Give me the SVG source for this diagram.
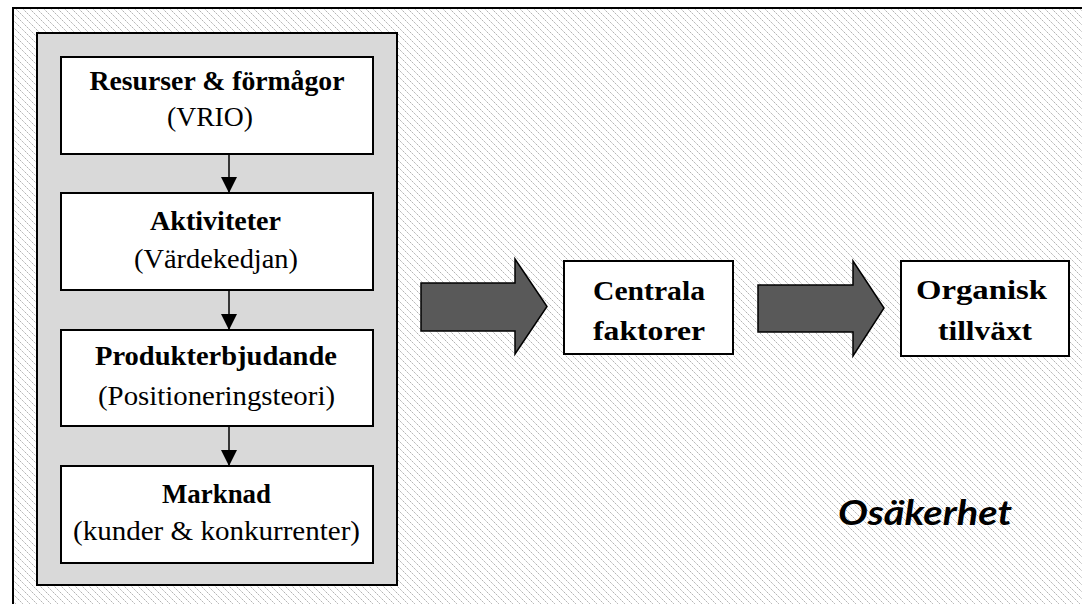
<svg xmlns="http://www.w3.org/2000/svg" width="1082" height="604" viewBox="0 0 1082 604">
  <defs>
    <pattern id="hatch" patternUnits="userSpaceOnUse" width="7" height="7">
      <rect width="7" height="7" fill="#ffffff"/>
      <path d="M-1,-1 L8,8 M-1,6 L1,8 M6,-1 L8,1" stroke="#a4a4a4" stroke-width="0.9" stroke-dasharray="1.6 0.8"/>
    </pattern>
    <marker id="tri" viewBox="0 0 16 16" refX="16" refY="8" markerWidth="16" markerHeight="16" markerUnits="userSpaceOnUse" orient="auto">
      <path d="M0,0 L16,8 L0,16 Z" fill="#000"/>
    </marker>
    <style>
      .box { fill: #ffffff; stroke: #000; stroke-width: 2; }
      .panel { fill: #d9d9d9; stroke: #000; stroke-width: 2; }
      .big { fill: #595959; stroke: #000; stroke-width: 1.5; stroke-linejoin: miter; }
      .link { stroke: #000; stroke-width: 1.5; fill: none; }
      text { font-family: "Liberation Serif", "DejaVu Serif", serif; font-size: 28px; fill: #000; text-anchor: middle; }
      .b { font-weight: bold; }
      .note { font-family: Lato, "Open Sans", sans-serif; font-size: 34px; font-weight: bold; font-style: italic; text-anchor: start; }
    </style>
  </defs>

  <!-- hatched frame -->
  <rect x="13" y="8" width="1080" height="610" fill="url(#hatch)" stroke="#000" stroke-width="2"/>

  <!-- grey panel with the internal chain -->
  <rect class="panel" x="37" y="33" width="360" height="552"/>

  <g id="resurser">
    <rect class="box" x="61" y="57" width="312" height="97"/>
    <text class="b" x="217" y="90" textLength="255" lengthAdjust="spacingAndGlyphs">Resurser &amp; förmågor</text>
    <text x="210" y="126" textLength="86" lengthAdjust="spacingAndGlyphs">(VRIO)</text>
  </g>
  <g id="aktiviteter">
    <rect class="box" x="61" y="193" width="312" height="97"/>
    <text class="b" x="215.5" y="230" textLength="131" lengthAdjust="spacingAndGlyphs">Aktiviteter</text>
    <text x="216" y="268" textLength="164" lengthAdjust="spacingAndGlyphs">(Värdekedjan)</text>
  </g>
  <g id="produkterbjudande">
    <rect class="box" x="61" y="330" width="312" height="96"/>
    <text class="b" x="216" y="365" textLength="242" lengthAdjust="spacingAndGlyphs">Produkterbjudande</text>
    <text x="216.5" y="405" textLength="237" lengthAdjust="spacingAndGlyphs">(Positioneringsteori)</text>
  </g>
  <g id="marknad">
    <rect class="box" x="61" y="466" width="312" height="97"/>
    <text class="b" x="216.5" y="503" textLength="109" lengthAdjust="spacingAndGlyphs">Marknad</text>
    <text x="216.5" y="540" textLength="287" lengthAdjust="spacingAndGlyphs">(kunder &amp; konkurrenter)</text>
  </g>

  <g id="centrala">
    <rect class="box" x="564" y="261" width="169" height="93"/>
    <text class="b" x="649" y="300" textLength="112" lengthAdjust="spacingAndGlyphs">Centrala</text>
    <text class="b" x="649" y="340" textLength="112" lengthAdjust="spacingAndGlyphs">faktorer</text>
  </g>
  <g id="organisk">
    <rect class="box" x="901" y="261" width="168" height="95"/>
    <text class="b" x="981.5" y="299" textLength="131" lengthAdjust="spacingAndGlyphs">Organisk</text>
    <text class="b" x="985" y="340" textLength="94" lengthAdjust="spacingAndGlyphs">tillväxt</text>
  </g>

  <g id="connectors">
    <line class="link" x1="229" y1="154" x2="229" y2="193" marker-end="url(#tri)"/>
    <line class="link" x1="229" y1="290" x2="229" y2="330" marker-end="url(#tri)"/>
    <line class="link" x1="229" y1="426" x2="229" y2="466" marker-end="url(#tri)"/>
    <path class="big" d="M421,283 L515,283 L515,259 L547,306.5 L515,354 L515,331 L421,331 Z"/>
    <path class="big" d="M758,285 L853,285 L853,261 L884,308 L853,356 L853,332 L758,332 Z"/>
  </g>

  <text class="note" x="838" y="525" textLength="174" lengthAdjust="spacingAndGlyphs">Osäkerhet</text>
</svg>
